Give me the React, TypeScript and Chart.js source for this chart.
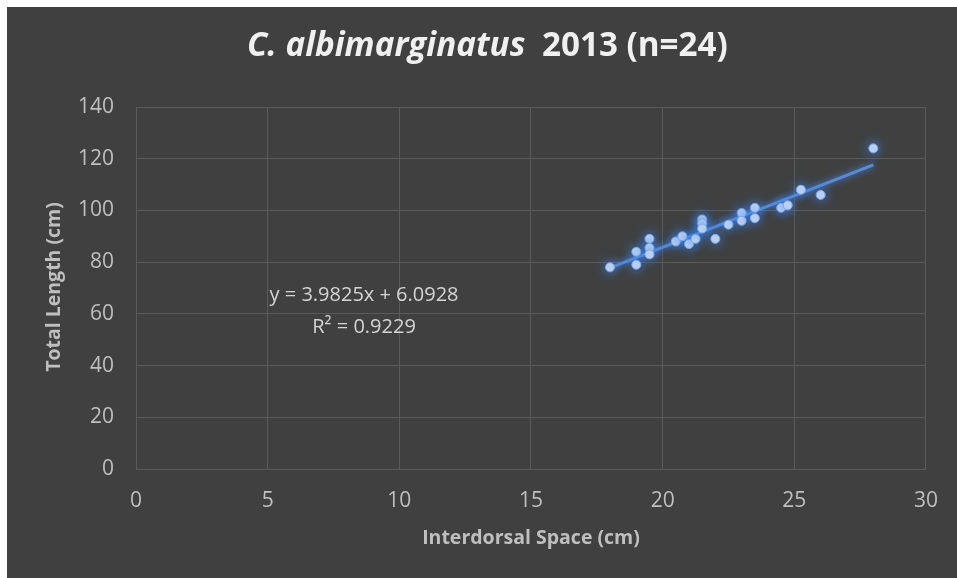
import React, { useEffect, useRef } from "react";
import { Chart, registerables } from "chart.js";

Chart.register(...registerables);

const interdorsal = [18, 19, 19, 19.5, 19.5, 19.5, 20.5, 20.75, 21, 21.25, 21.5, 21.5, 21.5, 22, 22.5, 23, 23, 23.5, 23.5, 24.5, 24.75, 25.25, 26, 28];
const totalLength = [78, 84, 79, 89, 85.5, 83, 88, 90, 87, 89, 96.5, 95, 93, 89, 94.5, 99, 96, 101, 97, 101, 102, 108, 106, 124];
const trendX = [18, 28];
const trendY = [77.8, 117.6];
const xTicks = [0, 5, 10, 15, 20, 25, 30];
const yTicks = [0, 20, 40, 60, 80, 100, 120, 140];
const titleItalic = "C. albimarginatus";
const titleRest = "2013 (n=24)";
const xTitle = "Interdorsal Space (cm)";
const yTitle = "Total Length (cm)";
const equation = "y = 3.9825x + 6.0928";
const rSquared = "R² = 0.9229";
const eqPos = { x: 8.66, y1: 67.0, y2: 54.9 };

const FONT = "'Open Sans', 'Liberation Sans', sans-serif";

export default function App() {
  const ref = useRef<HTMLCanvasElement | null>(null);
  useEffect(() => {
    if (!ref.current) return;
    const glow = {
      id: "glow",
      beforeDatasetDraw(chart: any, args: any) {
        const ctx = chart.ctx;
        ctx.save();
        ctx.shadowColor = "rgba(70,140,255,0.95)";
        ctx.shadowBlur = args.index === 0 ? 12 : 7;
      },
      afterDatasetDraw(chart: any) {
        chart.ctx.restore();
      },
    };
    const texts = {
      id: "texts",
      afterDraw(chart: any) {
        const ctx = chart.ctx;
        const xs = chart.scales.x;
        const ys = chart.scales.y;
        ctx.save();
        // Title, sized to span the reference width
        ctx.fillStyle = "#f0f0f0";
        ctx.textBaseline = "alphabetic";
        const base = 30;
        ctx.font = `italic bold ${base}px ${FONT}`;
        const wI0 = ctx.measureText(titleItalic).width;
        ctx.font = `bold ${base}px ${FONT}`;
        const wR0 = ctx.measureText(titleRest).width;
        const gapRatio = 0.5;
        const size = (base * 481) / (wI0 + wR0 + gapRatio * base);
        const fI = `italic bold ${size}px ${FONT}`;
        const fR = `bold ${size}px ${FONT}`;
        ctx.font = fI;
        const wI = ctx.measureText(titleItalic).width;
        ctx.font = fR;
        const wR = ctx.measureText(titleRest).width;
        const gap = gapRatio * size;
        const sx = 247 - 7;
        ctx.textAlign = "left";
        ctx.font = fI;
        ctx.fillText(titleItalic, sx, 56 - 7);
        ctx.font = fR;
        ctx.fillText(titleRest, sx + wI + gap, 56 - 7);
        // Axis titles
        ctx.fillStyle = "#bfbfbf";
        ctx.font = `bold 19.5px ${FONT}`;
        ctx.textAlign = "center";
        ctx.textBaseline = "middle";
        ctx.fillText(xTitle, 531 - 7, 538 - 7);
        ctx.save();
        ctx.translate(54 - 7, 287 - 7);
        ctx.rotate(-Math.PI / 2);
        ctx.fillText(yTitle, 0, 0);
        ctx.restore();
        // Equation
        ctx.fillStyle = "#d4d4d4";
        ctx.font = `20px ${FONT}`;
        ctx.fillText(equation, xs.getPixelForValue(eqPos.x), ys.getPixelForValue(eqPos.y1));
        ctx.fillText(rSquared, xs.getPixelForValue(eqPos.x), ys.getPixelForValue(eqPos.y2));
        ctx.restore();
      },
    };
    const chart = new Chart(ref.current, {
      type: "scatter",
      data: {
        datasets: [
          {
            label: "Total Length",
            data: interdorsal.map((x, i) => ({ x, y: totalLength[i] })),
            backgroundColor: "#c4d5f0",
            borderColor: "#7aaae8",
            borderWidth: 1,
            pointRadius: 4.5,
            order: 0,
          },
          {
            label: "Linear",
            type: "line",
            data: trendX.map((x, i) => ({ x, y: trendY[i] })),
            borderColor: "#5a8bd2",
            borderWidth: 3,
            pointRadius: 0,
            fill: false,
            order: 1,
          } as any,
        ],
      },
      options: {
        animation: false,
        responsive: true,
        maintainAspectRatio: false,
        layout: { padding: { left: 0, top: 100, right: 31, bottom: 0 } },
        plugins: { legend: { display: false }, tooltip: { enabled: false }, title: { display: false } },
        scales: {
          x: {
            type: "linear",
            min: 0,
            max: 30,
            afterBuildTicks: (s: any) => { s.ticks = xTicks.map((v) => ({ value: v })); },
            afterFit: (s: any) => { s.height = 109; },
            grid: { color: "#5a5a5a", lineWidth: 1, drawTicks: false },
            border: { color: "#5a5a5a" },
            ticks: { color: "#bfbfbf", font: { family: FONT, size: 21 }, padding: 19 },
          },
          y: {
            type: "linear",
            min: 0,
            max: 140,
            afterBuildTicks: (s: any) => { s.ticks = yTicks.map((v) => ({ value: v })); },
            afterFit: (s: any) => { s.width = 129; },
            grid: { color: "#5a5a5a", lineWidth: 1, drawTicks: false },
            border: { color: "#5a5a5a" },
            ticks: { color: "#bfbfbf", font: { family: FONT, size: 21 }, padding: 22 },
          },
        },
      },
      plugins: [glow, texts],
    });
    return () => chart.destroy();
  }, []);
  return (
    <div style={{ position: "fixed", left: 7, top: 7, right: 0, bottom: 0, background: "#404040" }}>
      <canvas ref={ref} />
    </div>
  );
}
